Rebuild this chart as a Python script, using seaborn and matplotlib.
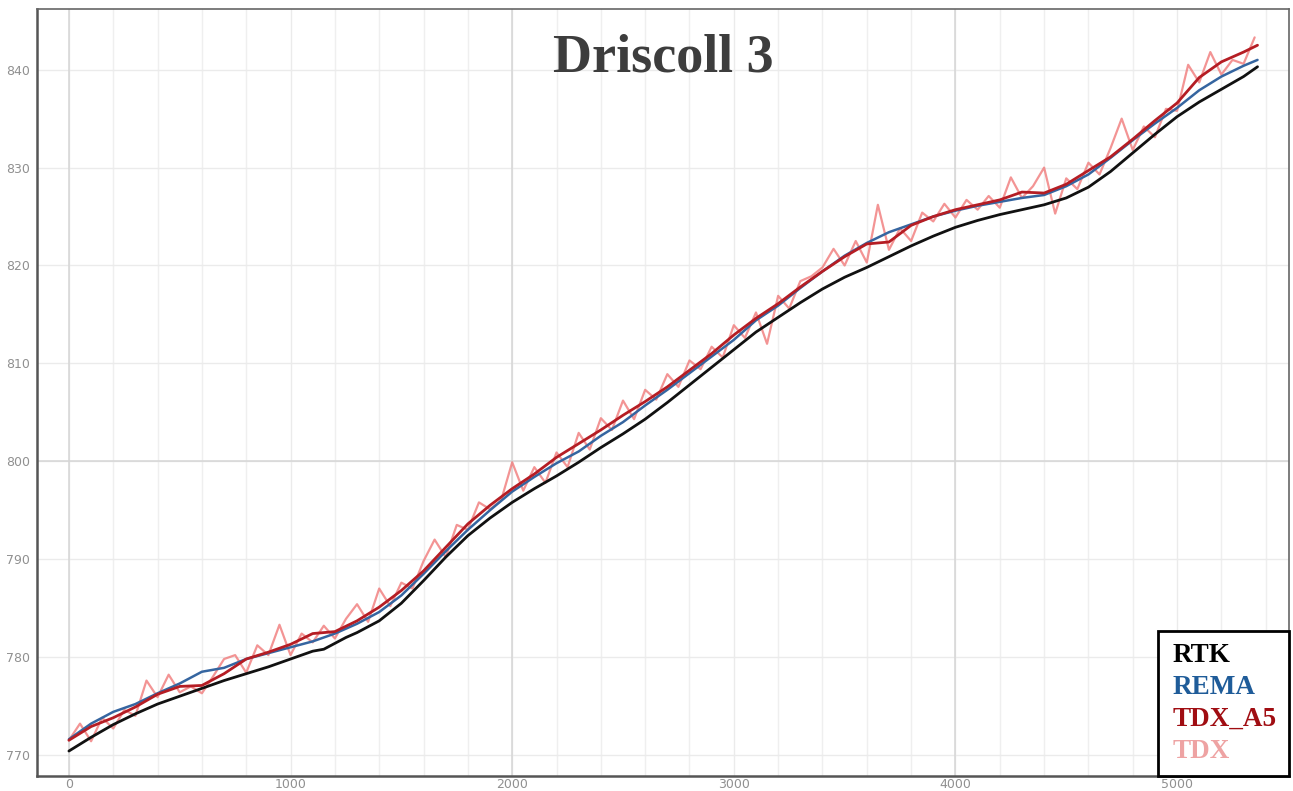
import numpy as np
import pandas as pd
import matplotlib
matplotlib.use("Agg")
import matplotlib.pyplot as plt
from matplotlib.ticker import MultipleLocator
from matplotlib.lines import Line2D
import seaborn as sns

# ---------------- data ----------------
title = "Driscoll 3"
series_names = ["RTK", "REMA", "TDX_A5", "TDX"]

rtk_x = [0, 100, 200, 300, 400, 500, 600, 700, 800, 900, 1000, 1100, 1150, 1200, 1250, 1300,
         1400, 1500, 1600, 1700, 1800, 1900, 2000, 2100, 2200, 2300, 2400, 2500, 2600, 2700,
         2800, 2900, 3000, 3100, 3200, 3300, 3400, 3500, 3600, 3700, 3800, 3900, 4000, 4100,
         4200, 4300, 4400, 4500, 4600, 4700, 4800, 4900, 5000, 5100, 5200, 5300, 5363]
rtk_y = [770.4, 771.8, 773.1, 774.2, 775.2, 776.0, 776.8, 777.6, 778.3, 779.0, 779.8, 780.6,
         780.8, 781.4, 782.0, 782.5, 783.7, 785.5, 787.8, 790.2, 792.4, 794.2, 795.8, 797.2,
         798.5, 799.9, 801.4, 802.8, 804.3, 806.0, 807.8, 809.6, 811.4, 813.2, 814.7, 816.2,
         817.6, 818.8, 819.8, 820.9, 822.0, 823.0, 823.9, 824.6, 825.2, 825.7, 826.2, 826.9,
         828.0, 829.6, 831.5, 833.4, 835.2, 836.7, 838.0, 839.3, 840.3]

rema_x = [0, 100, 200, 300, 400, 500, 600, 700, 800, 900, 1000, 1100, 1200, 1300, 1400, 1500,
          1600, 1700, 1800, 1900, 2000, 2100, 2200, 2300, 2400, 2500, 2600, 2700, 2800, 2900,
          3000, 3100, 3200, 3300, 3400, 3500, 3600, 3700, 3800, 3900, 4000, 4100, 4200, 4300,
          4400, 4500, 4600, 4700, 4800, 4900, 5000, 5100, 5200, 5300, 5363]
rema_y = [771.6, 773.2, 774.4, 775.2, 776.3, 777.3, 778.5, 778.9, 779.8, 780.4, 781.0, 781.6,
          782.4, 783.4, 784.6, 786.3, 788.5, 790.8, 793.0, 795.0, 796.9, 798.4, 799.8, 801.0,
          802.6, 804.0, 805.7, 807.3, 809.0, 810.7, 812.4, 814.4, 815.9, 817.7, 819.4, 821.0,
          822.3, 823.4, 824.2, 825.0, 825.6, 826.1, 826.5, 826.9, 827.2, 828.1, 829.3, 831.0,
          832.8, 834.5, 836.1, 837.9, 839.3, 840.4, 841.0]

a5_x = [0, 100, 200, 300, 400, 500, 600, 700, 800, 900, 1000, 1100, 1200, 1300, 1400, 1500,
        1600, 1700, 1800, 1900, 2000, 2100, 2200, 2300, 2400, 2500, 2600, 2700, 2800, 2900,
        3000, 3100, 3200, 3300, 3400, 3500, 3600, 3700, 3800, 3900, 4000, 4100, 4200, 4300,
        4400, 4500, 4600, 4700, 4800, 4900, 5000, 5100, 5200, 5300, 5363]
a5_y = [771.5, 772.9, 773.8, 774.9, 776.2, 777.0, 777.1, 778.3, 779.8, 780.5, 781.3, 782.4,
        782.6, 783.7, 785.1, 786.8, 788.8, 791.2, 793.6, 795.5, 797.2, 798.7, 800.4, 801.8,
        803.2, 804.7, 806.1, 807.6, 809.3, 811.0, 812.9, 814.6, 816.1, 817.8, 819.4, 820.9,
        822.2, 822.4, 824.1, 825.0, 825.7, 826.2, 826.7, 827.5, 827.4, 828.3, 829.7, 831.1,
        832.9, 834.8, 836.6, 839.2, 840.8, 841.8, 842.5]

tdx_x = list(range(0, 5351, 50))
tdx_y = [771.5, 773.2, 771.4, 773.8, 772.7, 774.6, 774.0, 777.6, 775.9, 778.2,
         776.4, 777.0, 776.3, 778.0, 779.8, 780.2, 778.4, 781.2, 780.2, 783.3,
         780.2, 782.4, 781.5, 783.2, 781.9, 783.9, 785.4, 783.6, 787.0, 785.2,
         787.6, 787.0, 789.8, 792.0, 790.2, 793.5, 793.0, 795.8, 795.1, 796.0,
         799.9, 797.0, 799.4, 797.8, 800.9, 799.4, 802.9, 801.2, 804.4, 803.2,
         806.2, 804.3, 807.3, 806.3, 808.9, 807.6, 810.3, 809.4, 811.7, 810.6,
         813.9, 812.6, 815.2, 812.0, 816.9, 815.6, 818.4, 818.9, 819.8, 821.7,
         820.0, 822.5, 820.3, 826.2, 821.6, 823.8, 822.5, 825.4, 824.5, 826.3,
         824.9, 826.7, 825.7, 827.1, 825.9, 829.0, 826.9, 828.1, 830.0, 825.3,
         828.9, 827.8, 830.5, 829.3, 832.0, 835.0, 831.8, 834.2, 833.1, 836.0,
         835.8, 840.5, 838.7, 841.8, 839.5, 841.0, 840.6, 843.3]

line_colors = {"RTK": "#111111", "REMA": "#3565a0", "TDX_A5": "#b51d24", "TDX": "#f07a7a"}
legend_colors = {"RTK": "#000000", "REMA": "#1f5c99", "TDX_A5": "#a00d12", "TDX": "#eea3a3"}

# ---------------- figure ----------------
sns.set_style("white")
plt.rcParams["font.family"] = ["DejaVu Sans"]

fig = plt.figure(figsize=(12.93, 7.91), dpi=100)
ax = fig.add_axes([37 / 1293, 15 / 791, 1252 / 1293, 767 / 791])

frames = {
    "TDX": pd.DataFrame({"x": tdx_x, "y": tdx_y}),
    "RTK": pd.DataFrame({"x": rtk_x, "y": rtk_y}),
    "REMA": pd.DataFrame({"x": rema_x, "y": rema_y}),
    "TDX_A5": pd.DataFrame({"x": a5_x, "y": a5_y}),
}
styles = {"TDX": dict(lw=1.6, alpha=0.8), "RTK": dict(lw=2.0, alpha=1.0),
          "REMA": dict(lw=1.8, alpha=1.0), "TDX_A5": dict(lw=2.0, alpha=1.0)}
for i, name in enumerate(["TDX", "RTK", "REMA", "TDX_A5"]):
    sns.lineplot(data=frames[name], x="x", y="y", ax=ax, color=line_colors[name],
                 linewidth=styles[name]["lw"], alpha=styles[name]["alpha"],
                 estimator=None, sort=False, zorder=3 + i)

ax.set_xlim(-144, 5505)
ax.set_ylim(767.85, 846.2)
ax.set_xlabel("")
ax.set_ylabel("")

ax.xaxis.set_major_locator(MultipleLocator(1000))
ax.xaxis.set_minor_locator(MultipleLocator(200))
ax.yaxis.set_major_locator(MultipleLocator(10))
ax.grid(which="major", axis="both", color="#ebebeb", lw=1.0, zorder=0)
ax.grid(which="minor", axis="x", color="#efefef", lw=1.0, zorder=0)
for xv in [0, 2000, 4000]:
    ax.axvline(xv, color="#d6d6d6", lw=1.1, zorder=1)
ax.axhline(800, color="#d6d6d6", lw=1.1, zorder=1)

ax.tick_params(axis="both", which="both", length=0, labelsize=9, labelcolor="#909090")
ax.tick_params(axis="y", pad=5)
ax.tick_params(axis="x", pad=1.5)

for side in ["left", "bottom"]:
    ax.spines[side].set_color("#555555")
    ax.spines[side].set_linewidth(1.8)
for side in ["top", "right"]:
    ax.spines[side].set_color("#666666")
    ax.spines[side].set_linewidth(1.2)

ax.text(0.5, 1 - 49 / 767, title, transform=ax.transAxes, ha="center", va="center",
        fontsize=39, fontweight="bold", family="Liberation Serif", color="#3d3d3d", zorder=10)

handles = [Line2D([], [], alpha=0) for _ in series_names]
leg = ax.legend(handles, series_names, loc="lower right", bbox_to_anchor=(1.0, 0.0),
                borderaxespad=0, handlelength=0, handletextpad=0.1, frameon=True,
                fancybox=False, labelspacing=0.26, borderpad=0.45,
                prop={"family": "Liberation Serif", "weight": "bold", "size": 19.5})
frame = leg.get_frame()
frame.set_edgecolor("black")
frame.set_linewidth(2)
frame.set_facecolor("white")
frame.set_alpha(1)
for txt, name in zip(leg.get_texts(), series_names):
    txt.set_color(legend_colors[name])
leg.set_zorder(20)

fig.savefig("out.png", dpi=100)
